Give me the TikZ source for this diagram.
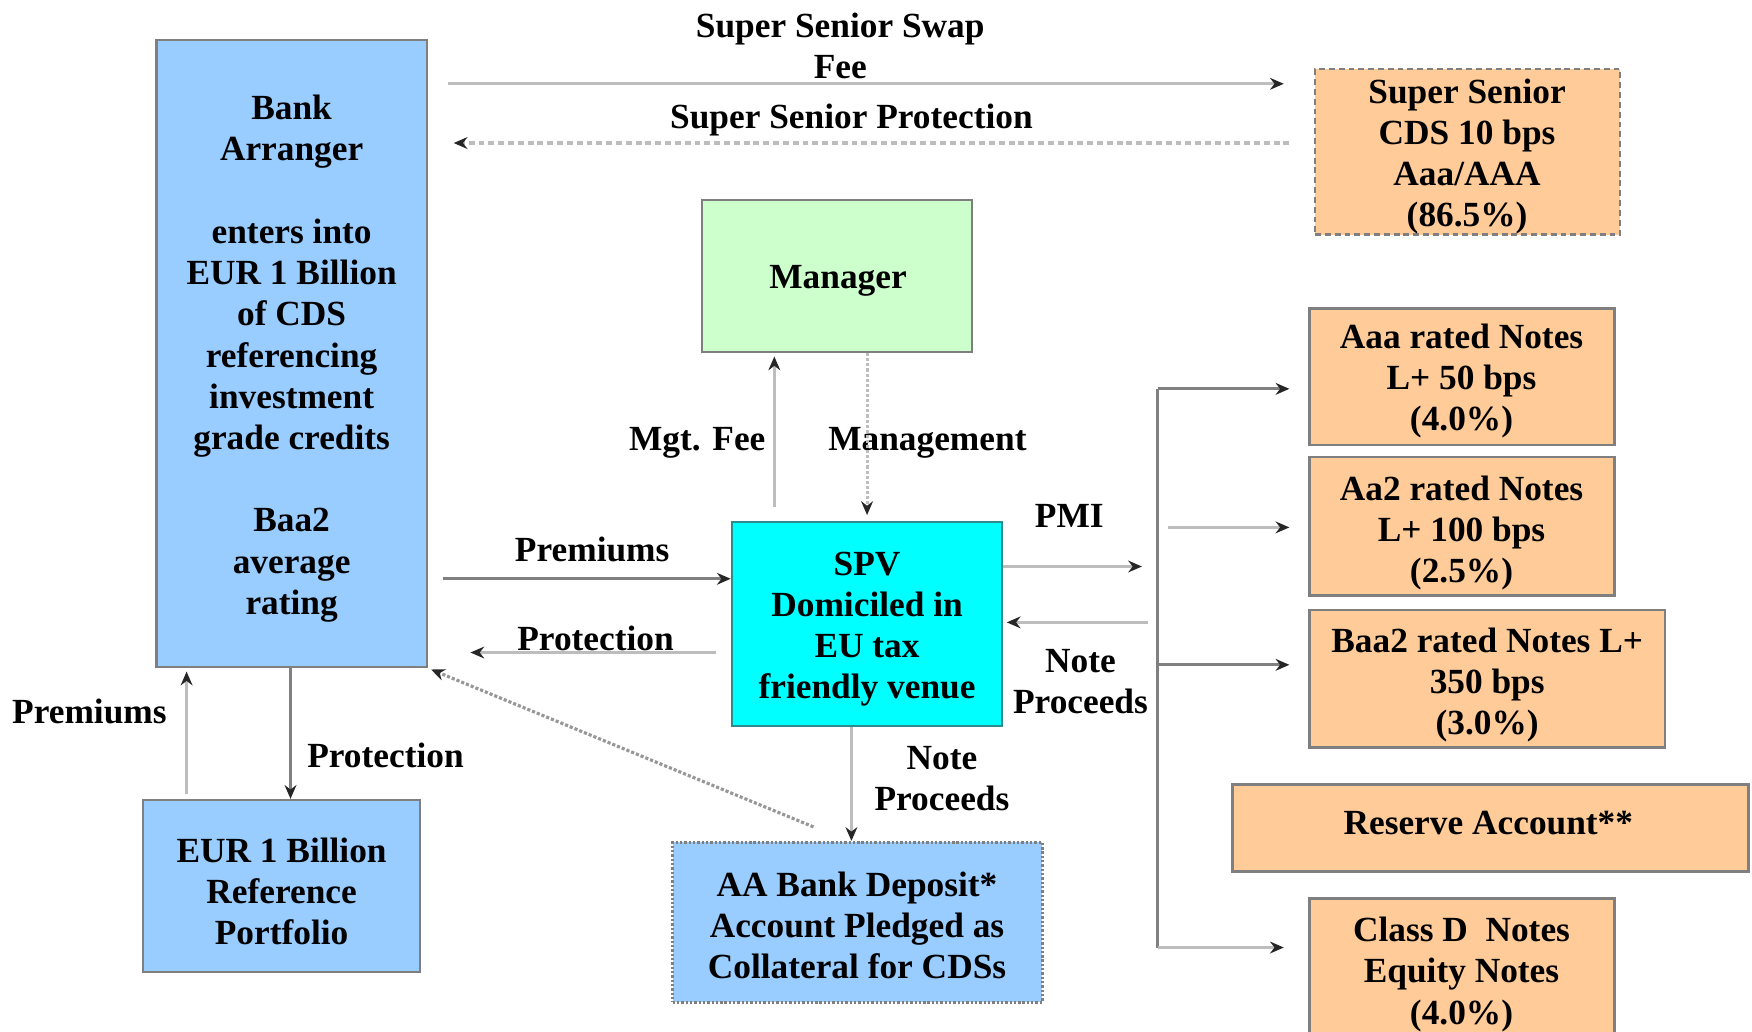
\documentclass[tikz,border=0pt]{standalone}
\usepackage{fontspec}
\setmainfont{Liberation Serif}
\usetikzlibrary{arrows.meta,fit}
\definecolor{bankblue}{HTML}{99CCFF}
\definecolor{mgrgreen}{HTML}{CCFFCC}
\definecolor{spvcyan}{HTML}{00FFFF}
\definecolor{peach}{HTML}{FFCC99}
\definecolor{ldark}{HTML}{808080}
\definecolor{llight}{HTML}{BDBDBD}
\definecolor{bord}{HTML}{7F7F7F}
\definecolor{spvbord}{HTML}{2A8C8C}
\begin{document}
\begin{tikzpicture}[x=0.02cm,y=-0.02cm,
 txt/.style={font=\fontsize{18}{21}\selectfont\bfseries, align=center, inner sep=0pt},
 box/.style={draw=bord, line width=1.2pt, inner sep=0pt},
 tip/.style={-{Stealth[length=7pt,width=6pt,color=black!85]}},
 dk/.style={tip, draw=ldark, line width=1.6pt},
 lt/.style={tip, draw=llight, line width=1.6pt},
]
\useasboundingbox[fill=white] (0,0) rectangle (1568,923);

% boxes
\node[box, fill=bankblue, fit={(140,36)(382,597)}] (bank) {};
\node[box, fill=peach, densely dashed, fit={(1177,62)(1450,210)}] (ss) {};
\node[box, fill=mgrgreen, fit={(628,179)(870,315)}] (mgr) {};
\node[box, fill=spvcyan, draw=spvbord, fit={(655,467)(897,650)}] (spv) {};
\node[box, fill=bankblue, fit={(128,716)(376,870)}] (port) {};
\node[box, fill=bankblue, densely dotted, line width=1.6pt, fit={(602,754)(933,897)}] (aa) {};
\node[box, fill=peach, fit={(1172,276)(1445,398)}] (aaa) {};
\node[box, fill=peach, fit={(1172,409)(1445,533)}] (aa2) {};
\node[box, fill=peach, fit={(1172,546)(1490,669)}] (baa) {};
\node[box, fill=peach, fit={(1103,702)(1565,780)}] (res) {};
\node[box, fill=peach, fit={(1172,804)(1445,940)}] (cld) {};

% box texts
\node[txt] (bankt) at (261,321)
 {Bank\\Arranger\\[21pt]enters into\\EUR 1 Billion\\of CDS\\referencing\\investment\\grade credits\\[21pt]Baa2\\average\\rating};
\node[txt] (sst) at (1313,140) {Super Senior\\CDS 10 bps\\Aaa/AAA\\(86.5\%)};
\node[txt] (mgrt) at (750,251) {Manager};
\node[txt] (spvt) at (776,563) {SPV\\Domiciled in\\EU tax\\friendly venue};
\node[txt] (portt) at (252,798) {EUR 1 Billion\\Reference\\Portfolio};
\node[txt] (aat) at (767,828) {AA Bank Deposit*\\Account Pledged as\\Collateral for CDSs};
\node[txt] (aaat) at (1308,341) {Aaa rated Notes\\L+ 50 bps\\(4.0\%)};
\node[txt] (aa2t) at (1308,477) {Aa2 rated Notes\\L+ 100 bps\\(2.5\%)};
\node[txt] (baat) at (1331,613) {Baa2 rated Notes L+\\350 bps\\(3.0\%)};
\node[txt] (rest) at (1332,737) {Reserve Account**};
\node[txt] (cldt) at (1308,872) {Class D~ Notes\\Equity Notes\\(4.0\%)};

% labels
\node[txt] (lswap) at (752,41) {Super Senior Swap\\Fee};
\node[txt] (lssp) at (762,107) {Super Senior Protection};
\node[txt] (lmgt) at (624,396) {Mgt. Fee};
\node[txt] (lman) at (830,396) {Management};
\node[txt] (lprem) at (530,492) {Premiums};
\node[txt] (lprot) at (533,571) {Protection};
\node[txt] (lprem2) at (80,637) {Premiums};
\node[txt] (lprot2) at (345,676) {Protection};
\node[txt] (lnp) at (843,697) {Note\\Proceeds};
\node[txt] (lpmi) at (957,462) {PMI};
\node[txt] (lnp2) at (967,610) {Note\\Proceeds};

% coordinates for free ends
\coordinate (pmiend) at (1022,507);
\coordinate (npstart) at (1027,557);
\coordinate (bustop) at (1036,348);
\coordinate (busbot) at (1036,848);
\coordinate (aa2start) at (1045,472);
\coordinate (dotstart) at (728,740);

% connectors
\draw[lt, shorten <=0.36cm, shorten >=0.54cm] (bank.east |- 0,75) -- (ss.west |- 0,75);
\draw[tip, draw=llight, line width=1.6pt, densely dashed, shorten <=0.44cm, shorten >=0.46cm] (ss.west |- 0,128) -- (bank.east |- 0,128);
\draw[lt, shorten <=0.24cm, shorten >=0.06cm] (spv.north -| 693,0) -- (mgr.south -| 693,0);
\draw[tip, draw=llight, line width=1.6pt, densely dotted, shorten >=0.1cm] (mgr.south -| 776,0) -- (spv.north -| 776,0);
\draw[dk, shorten <=0.26cm] (bank.east |- 0,518) -- (spv.west |- 0,518);
\draw[lt, shorten <=0.26cm, shorten >=0.76cm] (spv.west |- 0,584) -- (bank.east |- 0,584);
\draw[lt, shorten <=0.08cm, shorten >=0.06cm] (port.north -| 167,0) -- (bank.south -| 167,0);
\draw[dk] (bank.south -| 260,0) -- (port.north -| 260,0);
\draw[tip, draw=llight!80!black, line width=1.6pt, densely dotted, shorten >=0.06cm] (dotstart) -- (bank.south east);
\draw[lt] (spv.south -| 762,0) -- (aa.north -| 762,0);
\draw[lt] (spv.east |- pmiend) -- (pmiend);
\draw[lt, shorten >=0.06cm] (npstart) -- (spv.east |- npstart);
\draw[dk, shorten >=0.34cm] (bustop) -- (aaa.west |- bustop);
\draw[draw=ldark, line width=1.6pt] (bustop) -- (busbot);
\draw[lt, shorten >=0.34cm] (aa2start) -- (aa2.west |- aa2start);
\draw[dk, shorten >=0.34cm] (bustop |- 0,595) -- (baa.west |- 0,595);
\draw[lt, shorten >=0.44cm] (busbot) -- (cld.west |- busbot);
\end{tikzpicture}
\end{document}
